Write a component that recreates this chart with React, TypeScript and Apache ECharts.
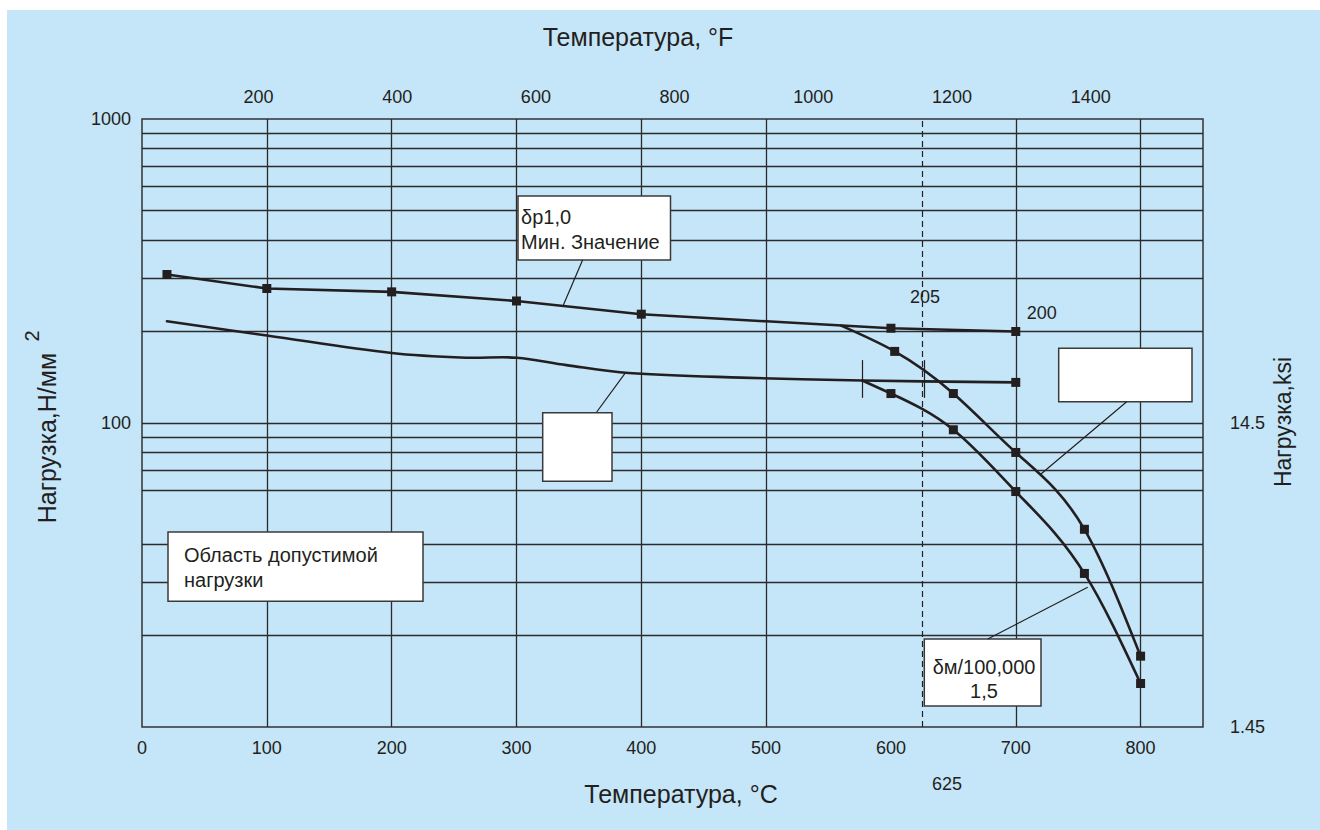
import React, { useEffect, useRef } from "react";
import * as echarts from "echarts";

const FONT = '"Liberation Sans", Arial, Helvetica, sans-serif';
const INK = "#231f20";
const GRID_INK = "#2b2b2b";
const PAPER = "#c5e5f8";

// δp1,0 minimum proof stress, N/mm² (°C)
const proofTemps = [20, 100, 200, 300, 400, 500, 600, 700];
const proofStress = [308, 277, 270, 252, 228, 216, 205, 200];
const proofMarked = [true, true, true, true, true, false, true, true];
const proofValueLabels = [600, 700];

// second (lower) short-term curve
const lowerTemps = [20, 100, 200, 260, 300, 340, 390, 480, 577, 700];
const lowerStress = [216, 194, 170, 164, 164, 155, 146, 141, 138, 136];
const lowerMarked = [false, false, false, false, false, false, false, false, false, true];

// creep-rupture curves (100 000 h)
const creepUpperTemps = [560, 603, 650, 700, 755, 800];
const creepUpperStress = [209, 172, 125, 80, 44.7, 17.1];
const creepLowerTemps = [577, 600, 650, 700, 755, 800];
const creepLowerStress = [138, 125, 95, 59.5, 32, 13.9];
const creepMarked = [false, true, true, true, true, true];

// axes
const celsiusMax = 850;
const fahrenheitLabels = [200, 400, 600, 800, 1000, 1200, 1400];
const stressGridValues = [20, 30, 40, 60, 70, 80, 90, 100, 200, 300, 400, 500, 600, 700, 800, 900];
const tempGridValues = [100, 200, 300, 400, 500, 700, 800];
const limitTemp = 625;
const stubTemps = [577, 627];
const stubRange = [121, 161];
const N_PER_MM2_TO_KSI = 0.145;

const toF = (c: number) => c * 1.8 + 32;

const CURVE_STYLE = { stroke: INK, lineWidth: 2.6, fill: "none", lineJoin: "round", lineCap: "round" };

// piecewise-linear / lightly rounded curve placed by the chart's own axes
function curveSeries(temps: number[], stress: number[], smooth: number) {
  return {
    type: "custom",
    z: 5,
    silent: true,
    clip: false,
    data: [[temps[0], stress[0]]],
    encode: { x: 0, y: 1 },
    renderItem: (_params: any, api: any) => ({
      type: "polyline",
      shape: {
        points: temps.map((t, i) => api.coord([t, stress[i]])),
        smooth,
      },
      style: CURVE_STYLE,
    }),
  };
}

// natural cubic spline through pixel points, written out as Bézier segments
function splinePath(pts: number[][]) {
  const n = pts.length;
  const x = pts.map((p) => p[0]);
  const y = pts.map((p) => p[1]);
  const h: number[] = [];
  for (let i = 0; i < n - 1; i++) h.push(x[i + 1] - x[i]);
  const M = new Array(n).fill(0);
  if (n > 2) {
    const a: number[] = [], b: number[] = [], c: number[] = [], d: number[] = [];
    for (let i = 1; i < n - 1; i++) {
      a.push(h[i - 1]);
      b.push(2 * (h[i - 1] + h[i]));
      c.push(h[i]);
      d.push(6 * ((y[i + 1] - y[i]) / h[i] - (y[i] - y[i - 1]) / h[i - 1]));
    }
    const m = b.length;
    for (let i = 1; i < m; i++) {
      const w = a[i] / b[i - 1];
      b[i] -= w * c[i - 1];
      d[i] -= w * d[i - 1];
    }
    const sol = new Array(m).fill(0);
    sol[m - 1] = d[m - 1] / b[m - 1];
    for (let i = m - 2; i >= 0; i--) sol[i] = (d[i] - c[i] * sol[i + 1]) / b[i];
    for (let i = 0; i < m; i++) M[i + 1] = sol[i];
  }
  let path = `M${x[0]},${y[0]}`;
  for (let i = 0; i < n - 1; i++) {
    const s = (y[i + 1] - y[i]) / h[i];
    const m0 = s - (h[i] * (2 * M[i] + M[i + 1])) / 6;
    const m1 = s + (h[i] * (M[i] + 2 * M[i + 1])) / 6;
    const c1x = x[i] + h[i] / 3;
    const c1y = y[i] + (m0 * h[i]) / 3;
    const c2x = x[i + 1] - h[i] / 3;
    const c2y = y[i + 1] - (m1 * h[i]) / 3;
    path += ` C${c1x},${c1y} ${c2x},${c2y} ${x[i + 1]},${y[i + 1]}`;
  }
  return path;
}

function splineSeries(temps: number[], stress: number[]) {
  return {
    type: "custom",
    z: 5,
    silent: true,
    clip: false,
    data: [[temps[0], stress[0]]],
    encode: { x: 0, y: 1 },
    renderItem: (_params: any, api: any) => ({
      type: "path",
      shape: { pathData: splinePath(temps.map((t, i) => api.coord([t, stress[i]]))) },
      style: CURVE_STYLE,
    }),
  };
}

// square markers on the curve points
function markerSeries(temps: number[], stress: number[], marked: boolean[], labelFor: number[] = []) {
  const data = temps
    .map((t, i) => ({ value: [t, stress[i]], keep: marked[i] }))
    .filter((d) => d.keep)
    .map((d) => {
      const item: any = { value: d.value };
      if (labelFor.includes(d.value[0])) {
        item.label = {
          show: true,
          position: "inside",
          offset: d.value[0] === 600 ? [34, -31] : [26, -18],
          formatter: (p: any) => String(p.value[1]),
          color: INK,
          fontSize: 18,
          fontFamily: FONT,
        };
      }
      return item;
    });
  return {
    type: "scatter",
    z: 6,
    silent: true,
    symbol: "rect",
    symbolSize: 9,
    itemStyle: { color: INK, opacity: 1 },
    data,
  };
}

function makeOption(): echarts.EChartsOption {
  const txt = (x: number, y: number, s: string, size: number, extra: any = {}) => ({
    type: "text",
    x,
    y,
    z: 100,
    silent: true,
    ...extra,
    style: {
      text: s,
      fontSize: size,
      fontFamily: FONT,
      fill: INK,
      align: "center",
      verticalAlign: "middle",
      ...(extra.style || {}),
    },
  });
  const box = (x: number, y: number, w: number, h: number) => ({
    type: "rect",
    z: 90,
    silent: true,
    shape: { x, y, width: w, height: h },
    style: { fill: "#ffffff", stroke: "#3a3a3a", lineWidth: 1.5 },
  });
  const leader = (x1: number, y1: number, x2: number, y2: number) => ({
    type: "line",
    z: 95,
    silent: true,
    shape: { x1, y1, x2, y2 },
    style: { stroke: INK, lineWidth: 1.2 },
  });

  const axisText = { color: INK, fontSize: 18, fontFamily: FONT };

  return {
    animation: false,
    backgroundColor: "#ffffff",
    textStyle: { fontFamily: FONT, color: INK },
    grid: {
      left: 142,
      top: 119,
      width: 1061,
      height: 608,
      show: true,
      borderColor: "#333333",
      borderWidth: 1.5,
      backgroundColor: "transparent",
    },
    xAxis: [
      {
        type: "value",
        position: "bottom",
        min: 0,
        max: celsiusMax,
        interval: 100,
        axisLine: { show: false },
        axisTick: { show: false },
        splitLine: { show: false },
        axisLabel: {
          ...axisText,
          margin: 12,
          formatter: (v: number) => (v > 800 ? "" : String(v)),
        },
      },
      {
        type: "value",
        position: "top",
        min: toF(0),
        max: toF(celsiusMax),
        axisLine: { show: false },
        axisTick: { show: false },
        splitLine: { show: false },
        axisLabel: {
          customValues: fahrenheitLabels,
          ...axisText,
          margin: 13,
          formatter: (v: number) => String(v),
        } as any,
      },
    ],
    yAxis: [
      {
        type: "log",
        logBase: 10,
        min: 10,
        max: 1000,
        axisLine: { show: false },
        axisTick: { show: false },
        splitLine: { show: false },
        axisLabel: {
          ...axisText,
          margin: 11,
          formatter: (v: number) => (v <= 10 ? "" : String(Math.round(v))),
        },
      },
      {
        type: "log",
        logBase: 10,
        min: 10,
        max: 1000,
        position: "right",
        axisLine: { show: false },
        axisTick: { show: false },
        splitLine: { show: false },
        axisLabel: {
          ...axisText,
          margin: 27,
          formatter: (v: number) =>
            v >= 1000 ? "" : String(Math.round(v * N_PER_MM2_TO_KSI * 100) / 100),
        },
      },
    ],
    series: [
      {
        // grid lines, 625 °C limit and the two stub marks
        type: "line",
        data: [],
        silent: true,
        z: 1,
        markLine: {
          silent: true,
          symbol: ["none", "none"],
          label: { show: false },
          lineStyle: { color: GRID_INK, width: 1.3, type: "solid" },
          data: [
            ...stressGridValues.map((v) => ({ yAxis: v })),
            ...tempGridValues.map((v) => ({ xAxis: v })),
            { xAxis: limitTemp, lineStyle: { type: [6, 4], width: 1.2, color: INK } },
            ...stubTemps.map((t) => [
              { coord: [t, stubRange[1]], lineStyle: { width: 1.2, color: INK, type: "solid" } },
              { coord: [t, stubRange[0]] },
            ]),
          ] as any,
        },
      },
      curveSeries(proofTemps, proofStress, 0),
      curveSeries(lowerTemps, lowerStress, 0.35),
      splineSeries(creepUpperTemps, creepUpperStress),
      splineSeries(creepLowerTemps, creepLowerStress),
      markerSeries(proofTemps, proofStress, proofMarked, proofValueLabels),
      markerSeries(lowerTemps, lowerStress, lowerMarked),
      markerSeries(creepUpperTemps, creepUpperStress, creepMarked),
      markerSeries(creepLowerTemps, creepLowerStress, creepMarked),
    ] as any,
    graphic: [
      {
        type: "rect",
        z: -100,
        silent: true,
        shape: { x: 7, y: 10, width: 1313, height: 820 },
        style: { fill: PAPER },
      },
      txt(638, 37, "Температура, °F", 25),
      txt(681, 794, "Температура, °C", 25),
      txt(47, 438, "Нагрузка,Н/мм", 25, { rotation: Math.PI / 2 }),
      txt(32, 336, "2", 20, { rotation: Math.PI / 2 }),
      txt(1283, 422, "Нагрузка,ksi", 23, { rotation: Math.PI / 2 }),
      txt(947, 784, "625", 18),

      leader(582.6, 260, 563.4, 305),
      box(518, 196, 152.5, 64),
      txt(521, 229.5, "δp1,0\nМин. Значение", 20, {
        style: { align: "left", lineHeight: 25 },
      }),

      leader(596.7, 412, 625, 373.3),
      box(542.7, 412.7, 69.3, 68.6),

      leader(1126.7, 401.7, 1041, 474),
      box(1058.7, 348.3, 133.3, 53.4),

      box(168, 532, 255, 69.3),
      txt(184, 567.5, "Область допустимой\nнагрузки", 20, {
        style: { align: "left", lineHeight: 25 },
      }),

      leader(987.7, 639, 1087.7, 587.3),
      box(924.3, 639, 116.7, 67),
      txt(984, 678.7, "δм/100,000\n1,5", 20, { style: { align: "center", lineHeight: 24 } }),
    ] as any,
  };
}

export default function App() {
  const ref = useRef<HTMLDivElement>(null);
  useEffect(() => {
    if (!ref.current) return;
    const chart = echarts.init(ref.current, undefined, { renderer: "svg" });
    chart.setOption(makeOption());
    return () => chart.dispose();
  }, []);
  return (
    <div
      ref={ref}
      style={{ position: "fixed", left: 0, top: 0, width: 1320, height: 830 }}
    />
  );
}
